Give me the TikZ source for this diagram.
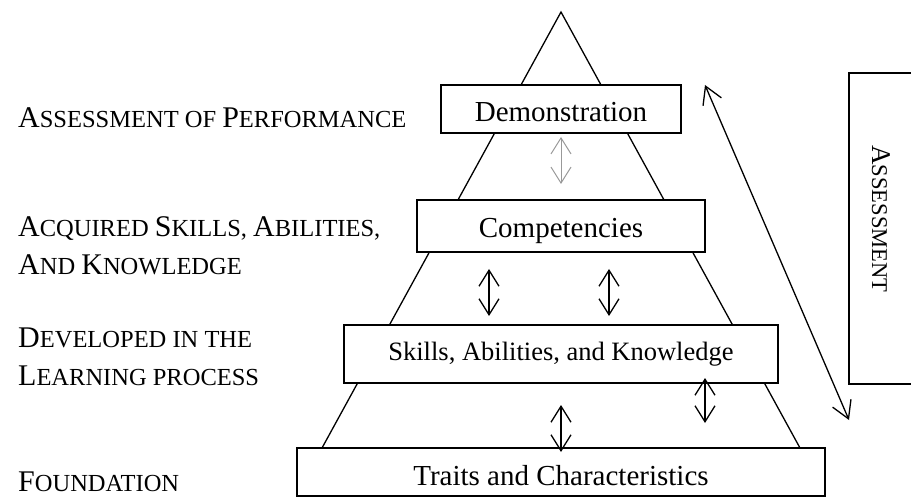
\documentclass[tikz,border=0pt]{standalone}
\usepackage{fontspec}
\setmainfont{Liberation Serif}
\usetikzlibrary{arrows.meta}
% hand-made small capitals: full-size initial, reduced remainder
\newcommand{\capbig}{\fontsize{30}{37}\selectfont}
\newcommand{\capsm}{\fontsize{24.5}{37}\selectfont}
\newcommand{\vcapbig}{\fontsize{27}{30}\selectfont}
\newcommand{\vcapsm}{\fontsize{22.5}{30}\selectfont}
\tikzset{
  tier/.style={draw, line width=1.6pt, fill=white, inner sep=0pt,
    font=\fontsize{29}{34}\selectfont, text height=26pt, text depth=0pt},
  sidelabel/.style={anchor=base west, inner sep=0pt},
  barbs/.style={{Straight Barb[length=16pt,width=20pt]}-{Straight Barb[length=16pt,width=20pt]}},
  link/.style={line width=1.3pt, barbs},
}
\begin{document}
\begin{tikzpicture}[x=1pt,y=-1pt]
\useasboundingbox (0,0) rectangle (911,497);
\clip (0,0) rectangle (911,497);

% pyramid outline
\coordinate (apex) at (561,12);
\coordinate (baseL) at (322,448);
\coordinate (baseR) at (800,448);
\draw[line width=1.3pt] (baseL) -- (apex) -- (baseR);

% tiers
\node[tier, minimum width=240pt, minimum height=48pt] (demo) at (561,109) {Demonstration};
\node[tier, minimum width=288pt, minimum height=52pt, text height=24pt] (comp) at (561,226) {Competencies};
\node[tier, minimum width=434pt, minimum height=58pt, font=\fontsize{26.5}{30}\selectfont,
      text height=18pt, text depth=6pt] (skills) at (561,354) {Skills, Abilities, and Knowledge};
\node[tier, minimum width=528pt, minimum height=48pt] (traits) at (561,472) {Traits and Characteristics};

% links between tiers
\coordinate (g1) at (561,137);  \coordinate (g2) at (561,184);
\coordinate (a1) at (489,269);  \coordinate (a2) at (489,316);
\coordinate (b1) at (609,269);  \coordinate (b2) at (609,316);
\coordinate (c1) at (561,405);  \coordinate (c2) at (561,452);
\coordinate (d1) at (705,378);  \coordinate (d2) at (705,423);
\draw[barbs, line width=1pt, draw=black!40] (g1) -- (g2);
\draw[link] (a1) -- (a2);
\draw[link] (b1) -- (b2);
\draw[link] (c1) -- (c2);
\draw[link] (d1) -- (d2);

% assessment span
\coordinate (s1) at (705,85);
\coordinate (s2) at (849,420);
\draw[line width=1.3pt, {Straight Barb[length=17pt,width=20pt]}-{Straight Barb[length=17pt,width=20pt]}] (s1) -- (s2);
\node[draw, line width=1.6pt, minimum width=120pt, minimum height=311pt, inner sep=0pt] (abox) at (909,228.5) {};
\node[anchor=base, rotate=-90, inner sep=0pt] (atext) at (872,219)
  {\vcapbig A\vcapsm SSESSMENT};

% level descriptions
\node[sidelabel] (perf) at (18,128) {\capbig A\capsm SSESSMENT OF \capbig P\capsm ERFORMANCE};
\node[sidelabel] (acq1) at (18,237) {\capbig A\capsm CQUIRED \capbig S\capsm KILLS, \capbig A\capsm BILITIES,};
\node[sidelabel] (acq2) at (18,275) {\capbig A\capsm ND \capbig K\capsm NOWLEDGE};
\node[sidelabel] (dev1) at (18,348) {\capbig D\capsm EVELOPED IN THE};
\node[sidelabel] (dev2) at (18,385) {\capbig L\capsm EARNING PROCESS};
\node[sidelabel] (found) at (18,491) {\capbig F\capsm OUNDATION};
\end{tikzpicture}
\end{document}
